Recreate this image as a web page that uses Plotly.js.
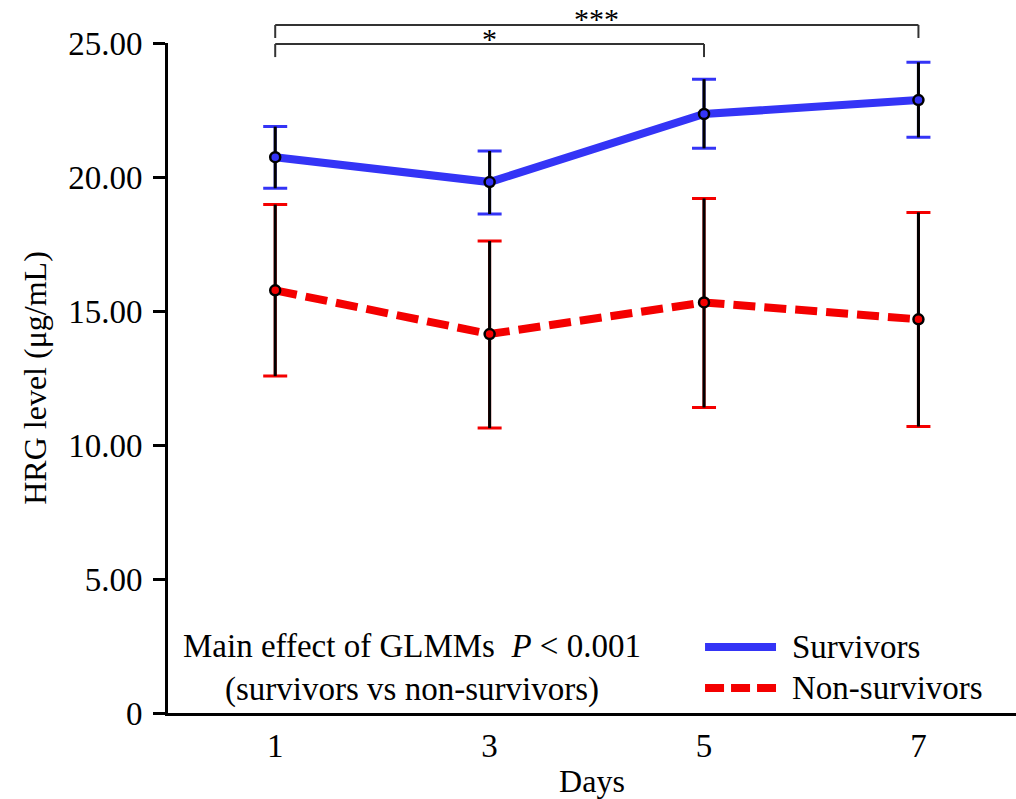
<!DOCTYPE html>
<html>
<head>
<meta charset="utf-8">
<script src="https://cdn.plot.ly/plotly-3.0.1.min.js"></script>
<style>
  html, body { margin: 0; padding: 0; background: #fff; }
  #chart { width: 1016px; height: 799px; }
</style>
</head>
<body>
<div id="chart"></div>
<script>
// ---- data ----
const days = [1, 3, 5, 7];
const survivorsMean  = [20.74, 19.81, 22.35, 22.87];
const survivorsUpper = [21.88, 20.97, 23.65, 24.28];
const survivorsLower = [19.58, 18.62, 21.07, 21.48];
const nonSurvMean    = [15.77, 14.14, 15.32, 14.69];
const nonSurvUpper   = [18.97, 17.61, 19.20, 18.68];
const nonSurvLower   = [12.57, 10.63, 11.40, 10.69];
const yTickVals  = [0, 5, 10, 15, 20, 25];
const yTickText  = ['0', '5.00', '10.00', '15.00', '20.00', '25.00'];
const xTickVals  = [1, 3, 5, 7];
const xTickText  = ['1', '3', '5', '7'];
const seriesNames = ['Survivors', 'Non-survivors'];

const BLUE = '#3434f6';
const RED = '#f40000';
const FONT = 'Liberation Serif, Times New Roman, serif';

const plus  = (m, u) => u.map((v, i) => +(v - m[i]).toFixed(3));
const minus = (m, l) => l.map((v, i) => +(m[i] - v).toFixed(3));

function lineTrace(y, name, color, dash) {
  return { x: days, y: y, name: name, type: 'scatter', mode: 'lines',
    line: { color: color, width: 8, dash: dash }, hoverinfo: 'skip', showlegend: false };
}
function capTrace(y, up, lo, color) {
  return { x: days, y: y, type: 'scatter', mode: 'markers', showlegend: false, hoverinfo: 'skip',
    marker: { size: 1, color: 'rgba(0,0,0,0)' },
    error_y: { type: 'data', symmetric: false, array: plus(y, up), arrayminus: minus(y, lo),
      color: color, thickness: 3, width: 12 } };
}
function stemTrace(y, up, lo) {
  return { x: days, y: y, type: 'scatter', mode: 'markers', showlegend: false, hoverinfo: 'skip',
    marker: { size: 1, color: 'rgba(0,0,0,0)' },
    error_y: { type: 'data', symmetric: false, array: plus(y, up), arrayminus: minus(y, lo),
      color: '#000', thickness: 3, width: 0 } };
}
function markerTrace(y, name, color) {
  return { x: days, y: y, name: name, type: 'scatter', mode: 'markers', showlegend: false,
    marker: { size: 10, color: color, line: { color: '#000', width: 2.5 } } };
}

const data = [
  lineTrace(nonSurvMean, seriesNames[1], RED, '22px,9px'),
  lineTrace(survivorsMean, seriesNames[0], BLUE, 'solid'),
  capTrace(nonSurvMean, nonSurvUpper, nonSurvLower, RED),
  capTrace(survivorsMean, survivorsUpper, survivorsLower, BLUE),
  stemTrace(nonSurvMean, nonSurvUpper, nonSurvLower),
  stemTrace(survivorsMean, survivorsUpper, survivorsLower),
  markerTrace(nonSurvMean, seriesNames[1], RED),
  markerTrace(survivorsMean, seriesNames[0], BLUE)
];

const bracketColor = '#333';
function bracket(x0, x1, yTop, yEnd) {
  const base = { type: 'line', xref: 'x', yref: 'paper', line: { color: bracketColor, width: 2 } };
  return [
    Object.assign({}, base, { x0: x0, x1: x0, y0: yEnd, y1: yTop }),
    Object.assign({}, base, { x0: x0, x1: x1, y0: yTop, y1: yTop }),
    Object.assign({}, base, { x0: x1, x1: x1, y0: yEnd, y1: yTop })
  ];
}

const shapes = [].concat(
  bracket(1, 7, 1.0269, 1.0075),
  bracket(1, 5, 0.9985, 0.9790),
  [
    { type: 'line', xref: 'paper', yref: 'paper', x0: 0.6333, x1: 0.717, y0: 0.0985, y1: 0.0985,
      line: { color: BLUE, width: 8 } },
    { type: 'line', xref: 'paper', yref: 'paper', x0: 0.6333, x1: 0.717, y0: 0.0373, y1: 0.0373,
      line: { color: RED, width: 8, dash: '19px,7px' } }
  ]
);

const annotations = [
  { xref: 'x', yref: 'paper', x: 4, y: 1.037, yanchor: 'middle', text: '***', showarrow: false,
    font: { family: FONT, size: 30, color: '#000' } },
  { xref: 'x', yref: 'paper', x: 3, y: 1.006, yanchor: 'middle', text: '*', showarrow: false,
    font: { family: FONT, size: 30, color: '#000' } },
  { xref: 'paper', yref: 'paper', x: 0.2877, y: 0.0672, xanchor: 'center', yanchor: 'middle',
    align: 'center', showarrow: false,
    text: 'Main effect of GLMMs\u00a0\u00a0<i>P</i> &lt; 0.001<br>(survivors vs non-survivors)',
    font: { family: FONT, size: 33, color: '#000' } },
  { xref: 'paper', yref: 'paper', x: 0.7335, y: 0.0985, xanchor: 'left', yanchor: 'middle',
    showarrow: false, text: seriesNames[0], font: { family: FONT, size: 33, color: '#000' } },
  { xref: 'paper', yref: 'paper', x: 0.7335, y: 0.0373, xanchor: 'left', yanchor: 'middle',
    showarrow: false, text: seriesNames[1], font: { family: FONT, size: 33, color: '#000' } }
];

const layout = {
  width: 1016, height: 799,
  margin: { l: 168, r: 0, t: 43, b: 86, pad: 0 },
  paper_bgcolor: '#fff', plot_bgcolor: '#fff',
  showlegend: false,
  font: { family: FONT, size: 33, color: '#000' },
  xaxis: {
    range: [0, 7.91], tickvals: xTickVals, ticktext: xTickText,
    showgrid: false, zeroline: false, showline: true, linecolor: '#000', linewidth: 3,
    ticks: '', ticklabelstandoff: 1,
    tickfont: { family: FONT, size: 33, color: '#000' },
    title: { text: 'Days', font: { family: FONT, size: 32, color: '#000' }, standoff: 14 }
  },
  yaxis: {
    range: [0, 25], tickvals: yTickVals, ticktext: yTickText,
    showgrid: false, zeroline: false, showline: true, linecolor: '#000', linewidth: 3,
    ticks: 'outside', ticklen: 12, tickwidth: 3, tickcolor: '#000', ticklabelstandoff: 4,
    tickfont: { family: FONT, size: 33, color: '#000' },
    title: { text: 'HRG level (μg/mL)', font: { family: FONT, size: 32, color: '#000' }, standoff: 12 }
  },
  shapes: shapes,
  annotations: annotations
};

Plotly.newPlot('chart', data, layout, { displayModeBar: false, staticPlot: true });
</script>
</body>
</html>
